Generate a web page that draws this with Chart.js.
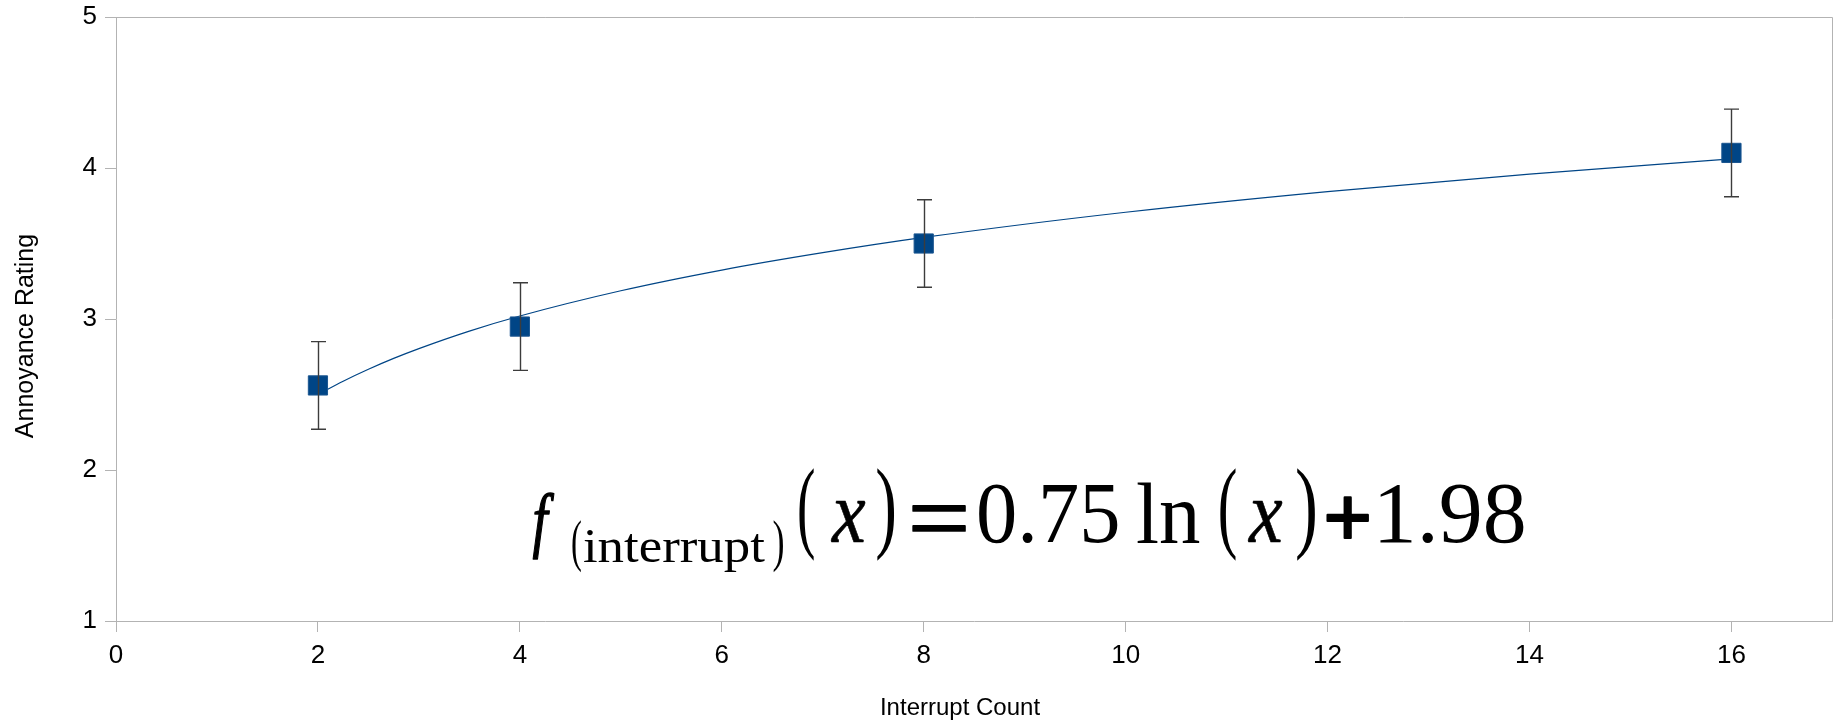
<!DOCTYPE html>
<html>
<head>
<meta charset="utf-8">
<script src="https://cdn.jsdelivr.net/npm/chart.js@4/dist/chart.umd.min.js"></script>
<style>
  html, body { margin: 0; padding: 0; background: #ffffff; }
  #wrap { width: 1847px; height: 722px; }
</style>
</head>
<body>
<div id="wrap"><canvas id="c" width="1847" height="722"></canvas></div>
<script>
// ---- data ----
const interruptCounts = [2, 4, 8, 16];
const annoyanceMeans = [2.56, 2.95, 3.50, 4.10];
const annoyanceErrors = [0.29, 0.29, 0.29, 0.29];

// trend line at sample x positions
const trendX = [2, 2.25, 2.5, 2.75, 3, 3.5, 4, 5, 6, 7, 8, 10, 12, 14, 16];
const trendY = [2.500, 2.588, 2.667, 2.739, 2.804, 2.920, 3.020, 3.187, 3.324, 3.439, 3.540, 3.707, 3.844, 3.959, 4.060];

const xTicks = [0, 2, 4, 6, 8, 10, 12, 14, 16];
const yTicks = [1, 2, 3, 4, 5];

const xTitle = 'Interrupt Count';
const yTitle = 'Annoyance Rating';

// equation pieces: text, style, extra stroke, ink box [x0, x1, y0, y1]
const eqPieces = [
  ['f', 'italic 80px "Liberation Serif"', 1.2, [532, 555, 493, 560]],
  ['(', '58px "Liberation Serif"', 0, [572, 581, 520, 573]],
  ['interrupt', '50px "Liberation Serif"', 0, [584, 765, 530, 572]],
  [')', '58px "Liberation Serif"', 0, [773, 783, 520, 573]],
  ['(', '107px "Liberation Serif"', 0, [799, 814, 468, 562]],
  ['x', 'italic 90px "Liberation Serif"', 0.6, [830, 866, 500, 542]],
  [')', '107px "Liberation Serif"', 0, [877, 894, 468, 562]],
  ['=', '85px "Liberation Serif"', 1.8, [912, 966, 503, 531]],
  ['0.75', '85px "Liberation Serif"', 0, [979, 1118, 484, 543]],
  ['ln', '85px "Liberation Serif"', 0, [1137, 1200, 483, 543]],
  ['(', '107px "Liberation Serif"', 0, [1220, 1236, 468, 562]],
  ['x', 'italic 90px "Liberation Serif"', 0.6, [1247, 1283, 500, 542]],
  [')', '107px "Liberation Serif"', 0, [1297, 1315, 468, 562]],
  ['+', 'bold 85px "Liberation Serif"', 2.2, [1326, 1369, 497, 540]],
  ['1.98', '85px "Liberation Serif"', 0, [1380, 1524, 484, 543]]
];

const AXIS_GRAY = '#b3b3b3';
const BLUE = '#004586';
const SANS = '"Liberation Sans", Arial, sans-serif';

const framePlugin = {
  id: 'frame',
  beforeDatasetsDraw(chart) {
    const ctx = chart.ctx, a = chart.chartArea;
    ctx.save();
    ctx.strokeStyle = AXIS_GRAY;
    ctx.lineWidth = 1;
    ctx.beginPath();
    const t = Math.round(a.top) + 0.5, r = Math.round(a.right) + 0.5;
    ctx.moveTo(a.left, t); ctx.lineTo(r, t); ctx.lineTo(r, a.bottom);
    ctx.stroke();
    ctx.restore();
  }
};

const errorBarPlugin = {
  id: 'errorBars',
  afterDatasetsDraw(chart) {
    const ctx = chart.ctx;
    const xs = chart.scales.x, ys = chart.scales.y;
    ctx.save();
    ctx.strokeStyle = '#3c3c3c';
    ctx.lineWidth = 1.4;
    const cap = 7.5;
    interruptCounts.forEach((xv, i) => {
      const px = Math.round(xs.getPixelForValue(xv)) + 0.5;
      const top = ys.getPixelForValue(annoyanceMeans[i] + annoyanceErrors[i]);
      const bot = ys.getPixelForValue(annoyanceMeans[i] - annoyanceErrors[i]);
      ctx.beginPath();
      ctx.moveTo(px, top); ctx.lineTo(px, bot);
      ctx.moveTo(px - cap, top); ctx.lineTo(px + cap, top);
      ctx.moveTo(px - cap, bot); ctx.lineTo(px + cap, bot);
      ctx.stroke();
    });
    ctx.restore();
  }
};

const axisTitlePlugin = {
  id: 'axisTitles',
  afterDraw(chart) {
    const ctx = chart.ctx;
    ctx.save();
    ctx.fillStyle = '#000000';
    ctx.textAlign = 'center';
    ctx.textBaseline = 'alphabetic';
    ctx.font = '24px ' + SANS;
    ctx.fillText(xTitle, 960, 715);
    ctx.font = '25px ' + SANS;
    ctx.translate(33, 336);
    ctx.rotate(-Math.PI / 2);
    ctx.fillText(yTitle, 0, 0);
    ctx.restore();
  }
};

const equationPlugin = {
  id: 'equation',
  afterDraw(chart) {
    const ctx = chart.ctx;
    ctx.save();
    ctx.fillStyle = '#000000';
    ctx.strokeStyle = '#000000';
    ctx.lineJoin = 'round';
    ctx.textAlign = 'left';
    ctx.textBaseline = 'alphabetic';
    eqPieces.forEach(([txt, font, stroke, box]) => {
      ctx.font = font;
      const m = ctx.measureText(txt);
      const w = m.actualBoundingBoxLeft + m.actualBoundingBoxRight;
      const h = m.actualBoundingBoxAscent + m.actualBoundingBoxDescent;
      const bw = (box[1] - box[0]) - stroke;
      const bh = (box[3] - box[2]) - stroke;
      const sx = bw / w;
      const sy = bh / h;
      ctx.save();
      ctx.translate(box[0] + stroke / 2, box[2] + stroke / 2);
      ctx.scale(sx, sy);
      ctx.fillText(txt, m.actualBoundingBoxLeft, m.actualBoundingBoxAscent);
      if (stroke > 0) {
        ctx.lineWidth = stroke / Math.sqrt(sx * sy);
        ctx.strokeText(txt, m.actualBoundingBoxLeft, m.actualBoundingBoxAscent);
      }
      ctx.restore();
    });
    ctx.restore();
  }
};

new Chart(document.getElementById('c'), {
  data: {
    datasets: [
      {
        type: 'scatter',
        label: 'Annoyance',
        data: interruptCounts.map((x, i) => ({ x: x, y: annoyanceMeans[i] })),
        pointStyle: 'rect',
        pointRadius: 13.6,
        pointHoverRadius: 13.6,
        backgroundColor: BLUE,
        borderColor: '#1b5690',
        borderWidth: 1,
        showLine: false
      },
      {
        type: 'line',
        label: 'Trend',
        data: trendX.map((x, i) => ({ x: x, y: trendY[i] })),
        borderColor: BLUE,
        borderWidth: 1.2,
        pointRadius: 0,
        fill: false,
        cubicInterpolationMode: 'monotone'
      }
    ]
  },
  options: {
    responsive: false,
    devicePixelRatio: 1,
    animation: false,
    events: [],
    layout: { padding: { top: 17, right: 13, left: 0, bottom: 0 } },
    plugins: {
      legend: { display: false },
      tooltip: { enabled: false },
      title: { display: false }
    },
    scales: {
      x: {
        type: 'linear',
        position: 'bottom',
        min: 0,
        max: 17,
        afterBuildTicks(scale) { scale.ticks = xTicks.map(v => ({ value: v })); },
        afterFit(scale) {
          scale.height = 101;
          scale.paddingLeft = 0; scale.paddingRight = 0;
          scale.paddingTop = 0; scale.paddingBottom = 0;
        },
        ticks: {
          color: '#000000',
          font: { family: SANS, size: 26 },
          padding: 8,
          maxRotation: 0,
          autoSkip: false
        },
        grid: { drawOnChartArea: false, drawTicks: true, tickLength: 11, color: AXIS_GRAY, lineWidth: 1 },
        border: { display: true, color: AXIS_GRAY, width: 1 },
        title: { display: false }
      },
      y: {
        type: 'linear',
        position: 'left',
        min: 1,
        max: 5,
        afterBuildTicks(scale) { scale.ticks = yTicks.map(v => ({ value: v })); },
        afterFit(scale) {
          scale.width = 116;
          scale.paddingLeft = 0; scale.paddingRight = 0;
          scale.paddingTop = 0; scale.paddingBottom = 0;
        },
        ticks: {
          color: '#000000',
          font: { family: SANS, size: 26 },
          padding: 8
        },
        grid: { drawOnChartArea: false, drawTicks: true, tickLength: 11, color: AXIS_GRAY, lineWidth: 1 },
        border: { display: true, color: AXIS_GRAY, width: 1 },
        title: { display: false }
      }
    }
  },
  plugins: [framePlugin, errorBarPlugin, axisTitlePlugin, equationPlugin]
});
</script>
</body>
</html>
